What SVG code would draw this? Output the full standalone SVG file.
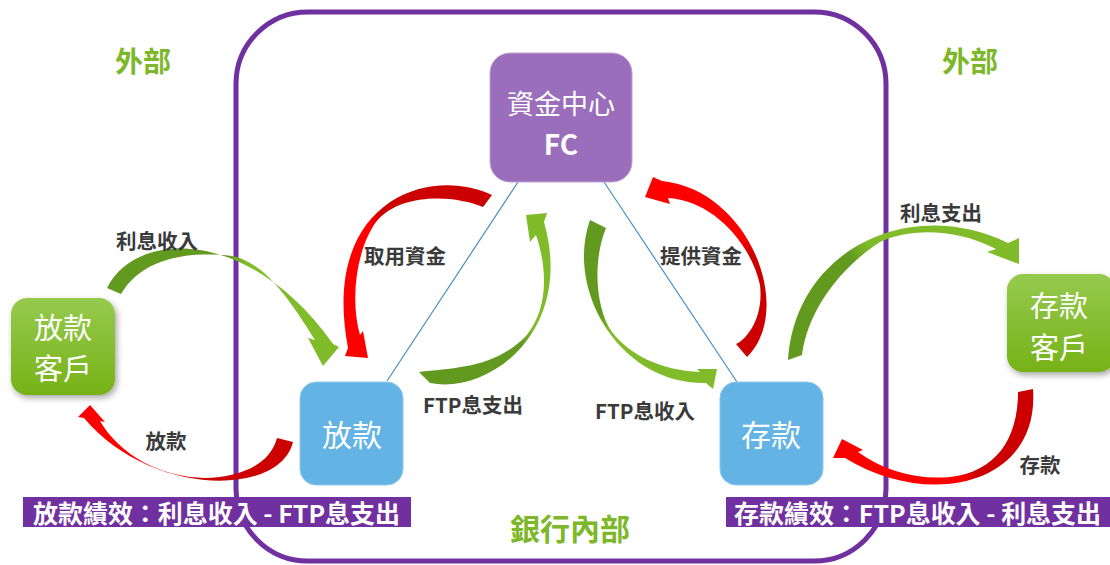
<svg xmlns="http://www.w3.org/2000/svg" width="1110" height="565" viewBox="0 0 1110 565">
<defs>
<style>
.lbl{font-family:"Noto Sans CJK TC","Noto Sans CJK SC",sans-serif;font-weight:700;font-size:20.5px;fill:#3a3a3a;text-anchor:middle;dominant-baseline:central}
.nodeTxt{font-family:"Noto Sans CJK TC","Noto Sans CJK SC",sans-serif;fill:#fff;text-anchor:middle;dominant-baseline:central}
.grn{font-family:"Noto Sans CJK TC","Noto Sans CJK SC",sans-serif;font-weight:700;fill:#7DB72A;text-anchor:middle;dominant-baseline:central}
.bar{fill:#7030A0}
.barTxt{font-family:"Noto Sans CJK TC","Noto Sans CJK SC",sans-serif;font-weight:700;font-size:24.5px;fill:#fff;dominant-baseline:central}
.link{stroke:#4A8EC0;stroke-width:1.2;fill:none}
</style>
<linearGradient id="gNode" x1="0" y1="0" x2="0" y2="1">
<stop offset="0" stop-color="#96CA4E"/><stop offset="1" stop-color="#76B217"/>
</linearGradient>
<filter id="sh" x="-20%" y="-20%" width="150%" height="150%">
<feDropShadow dx="2" dy="3" stdDeviation="3" flood-color="#000" flood-opacity="0.35"/>
</filter>
<linearGradient id="a1" gradientUnits="userSpaceOnUse" x1="110" y1="290" x2="330" y2="350"><stop offset="0.45" stop-color="#62991F"/><stop offset="0.55" stop-color="#80BC29"/></linearGradient>
<linearGradient id="a2" gradientUnits="userSpaceOnUse" x1="290" y1="440" x2="90" y2="410"><stop offset="0.43" stop-color="#CC0000"/><stop offset="0.53" stop-color="#FF0000"/></linearGradient>
<linearGradient id="a3" gradientUnits="userSpaceOnUse" x1="490" y1="200" x2="355" y2="350"><stop offset="0.4" stop-color="#CC0000"/><stop offset="0.5" stop-color="#FF0000"/></linearGradient>
<linearGradient id="a4" gradientUnits="userSpaceOnUse" x1="425" y1="378" x2="540" y2="225"><stop offset="0.45" stop-color="#62991F"/><stop offset="0.55" stop-color="#80BC29"/></linearGradient>
<linearGradient id="a5" gradientUnits="userSpaceOnUse" x1="598" y1="224" x2="708" y2="378"><stop offset="0.4" stop-color="#62991F"/><stop offset="0.5" stop-color="#80BC29"/></linearGradient>
<linearGradient id="a6" gradientUnits="userSpaceOnUse" x1="741" y1="350" x2="660" y2="190"><stop offset="0.45" stop-color="#CC0000"/><stop offset="0.55" stop-color="#FF0000"/></linearGradient>
<linearGradient id="a7" gradientUnits="userSpaceOnUse" x1="795" y1="357" x2="1005" y2="245"><stop offset="0.4" stop-color="#62991F"/><stop offset="0.5" stop-color="#80BC29"/></linearGradient>
<linearGradient id="a8" gradientUnits="userSpaceOnUse" x1="1025" y1="390" x2="850" y2="455"><stop offset="0.4" stop-color="#CC0000"/><stop offset="0.5" stop-color="#FF0000"/></linearGradient>
</defs>
<rect width="1110" height="565" fill="#fff"/>

<g id="frame">
<rect x="236" y="12" width="650" height="549" rx="72" ry="72" fill="none" stroke="#7030A0" stroke-width="5"/>
</g>

<g id="region-labels">
<text class="grn" x="143" y="60" font-size="28">外部</text>
<text class="grn" x="970" y="60" font-size="28">外部</text>
<text class="grn" x="570" y="527" font-size="30">銀行內部</text>
</g>

<g id="connectors">
<line class="link" x1="518" y1="182" x2="387" y2="381"/>
<line class="link" x1="604" y1="182" x2="737" y2="382"/>
<path id="arr-lixishouru" fill="url(#a1)" d="M107,288 C135,230 250,226 333,344 L339,347 L323,366 L308,338 L315,340 C285,292 262,262 232,256 C180,250 140,262 121,294 Z"/>
<path id="arr-fangkuan" fill="url(#a2)" d="M293,442 C280,497 150,497 84,418 L78,417 L90,405 L105,422 L100,421 C120,455 160,477 205,478 C240,477 270,465 277,438 Z"/>
<path id="arr-quyong" fill="url(#a3)" d="M492,195 C430,165 320,200 348,348 L345,356 L368,358 L363,331 L360,335 C350,300 356,250 376,222 C400,192 455,195 483,207 Z"/>
<path id="arr-ftpzhichu" fill="url(#a4)" d="M430,383 C490,395 575,330 544,222 L547,213 L526,215 L530,242 L536,235 C548,270 548,310 526,336 C495,368 455,368 419,372 Z"/>
<path id="arr-ftpshouru" fill="url(#a5)" d="M590,220 C565,290 620,385 706,383 L713,389 L717,369 L697,369 L700,372 C660,370 630,355 612,332 C596,310 592,262 606,228 Z"/>
<path id="arr-tigong" fill="url(#a6)" d="M747,357 C795,310 750,190 662,181 L653,177 L645,197 L670,204 L668,198 C710,200 750,240 760,285 C764,320 745,340 736,344 Z"/>
<path id="arr-lixizhichu" fill="url(#a7)" d="M788,360 C795,250 910,195 1008,243 L1019,238 L1019,264 L987,252 L996,249 C955,228 910,228 880,242 C840,268 808,310 802,355 Z"/>
<path id="arr-cunkuan" fill="url(#a8)" d="M1033,389 C1040,485 930,510 845,458 L833,458 L842,439 L863,450 L858,452 C885,472 920,480 950,477 C995,472 1018,440 1018,392 Z"/>
</g>

<g id="arrow-labels">
<text class="lbl" x="157" y="240">利息收入</text>
<text class="lbl" x="166" y="440">放款</text>
<text class="lbl" x="405" y="255">取用資金</text>
<text class="lbl" x="473" y="404">FTP息支出</text>
<text class="lbl" x="645" y="410">FTP息收入</text>
<text class="lbl" x="701" y="255">提供資金</text>
<text class="lbl" x="941" y="212">利息支出</text>
<text class="lbl" x="1040" y="464">存款</text>
</g>

<g id="node-fc">
<rect x="490" y="53" width="142" height="129" rx="20" fill="#9B6EBC" stroke="#C0A4D6" stroke-width="1"/>
<text class="nodeTxt" x="561" y="102" font-size="27">資金中心</text>
<text class="nodeTxt" x="561" y="143" font-size="28" font-weight="700">FC</text>
</g>

<g id="node-loan">
<rect x="300" y="382" width="103" height="103" rx="16" fill="#63B4E5" stroke="#8DC8EC" stroke-width="1"/>
<text class="nodeTxt" x="352" y="433" font-size="30">放款</text>
</g>

<g id="node-deposit">
<rect x="720" y="382" width="103" height="103" rx="16" fill="#63B4E5" stroke="#8DC8EC" stroke-width="1"/>
<text class="nodeTxt" x="771" y="433" font-size="30">存款</text>
</g>

<g id="node-loan-client">
<rect x="11" y="298" width="104" height="97" rx="16" fill="url(#gNode)" filter="url(#sh)"/>
<text class="nodeTxt" x="63" y="326" font-size="29">放款</text>
<text class="nodeTxt" x="63" y="367" font-size="29">客戶</text>
</g>

<g id="node-deposit-client">
<rect x="1007" y="274" width="108" height="98" rx="16" fill="url(#gNode)" filter="url(#sh)"/>
<text class="nodeTxt" x="1059" y="304" font-size="29">存款</text>
<text class="nodeTxt" x="1059" y="346" font-size="29">客戶</text>
</g>

<g id="bar-loan">
<rect class="bar" x="23" y="497" width="388" height="30"/>
<text class="barTxt" x="33" y="512" textLength="367" lengthAdjust="spacingAndGlyphs">放款績效：利息收入 - FTP息支出</text>
</g>

<g id="bar-deposit">
<rect class="bar" x="726" y="497" width="390" height="30"/>
<text class="barTxt" x="734" y="512" textLength="367" lengthAdjust="spacingAndGlyphs">存款績效：FTP息收入 - 利息支出</text>
</g>
</svg>
